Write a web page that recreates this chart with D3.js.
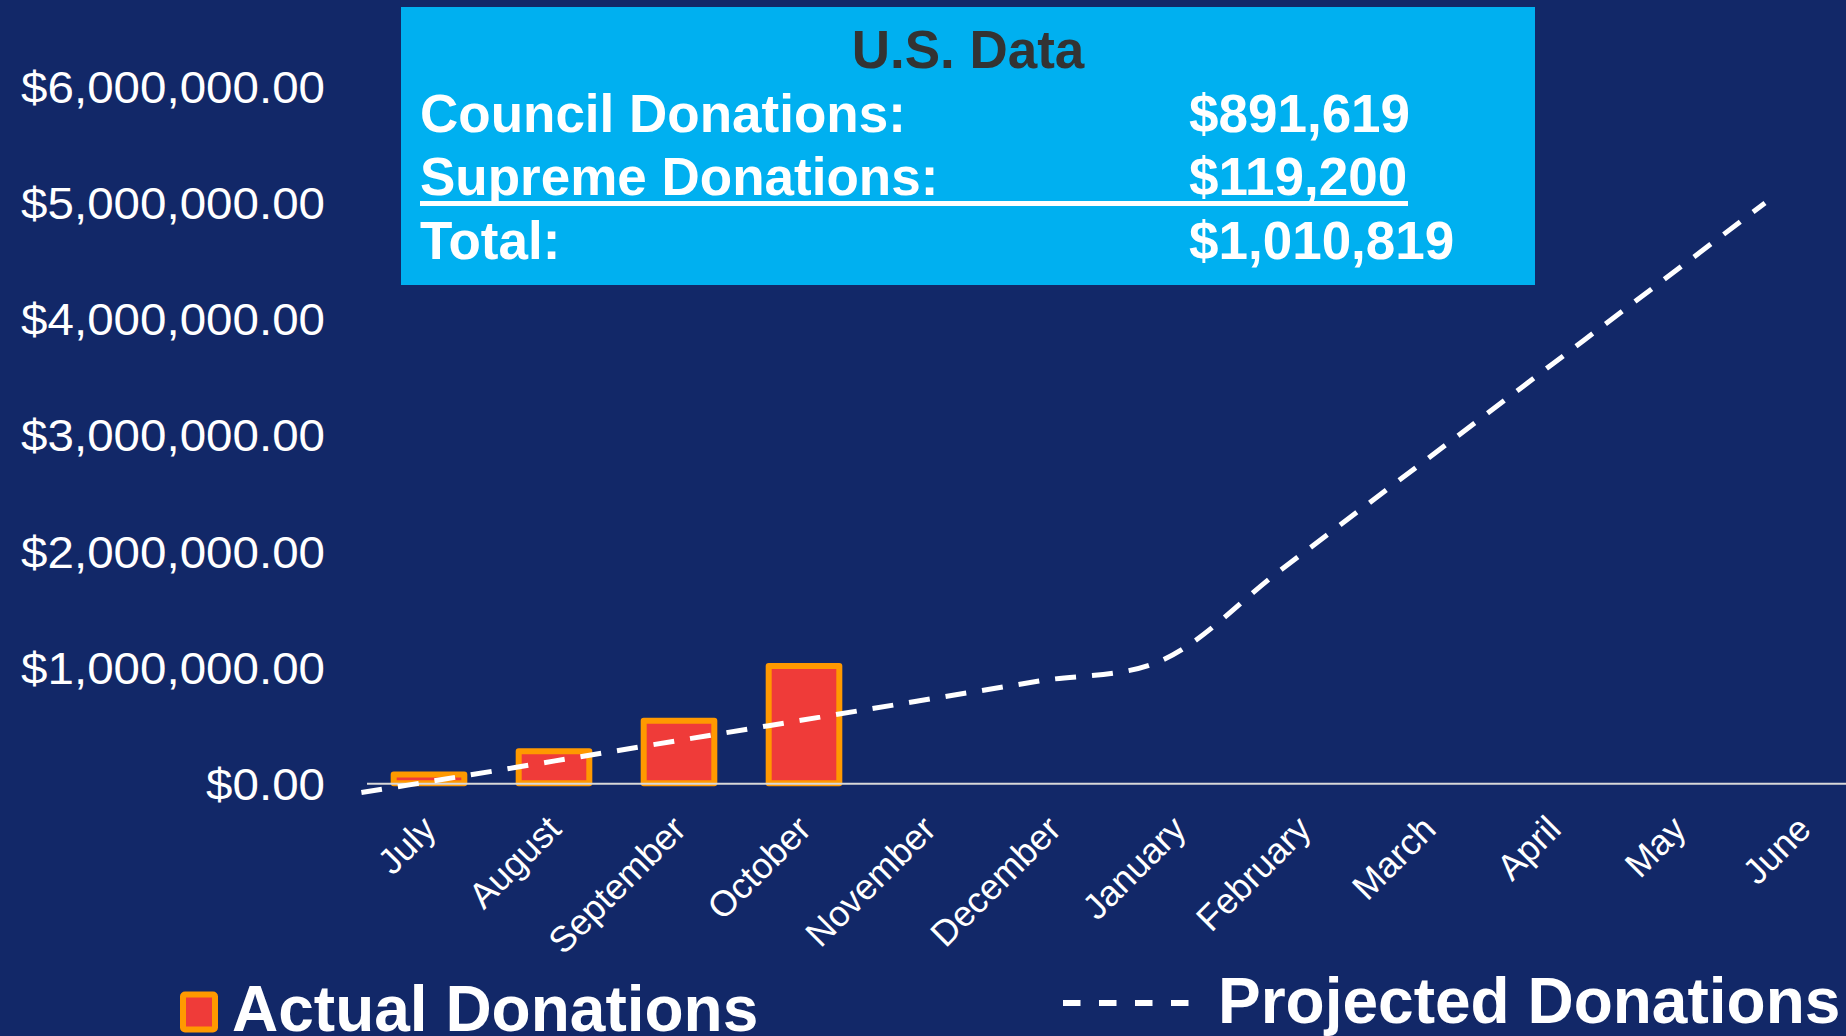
<!DOCTYPE html>
<html>
<head>
<meta charset="utf-8">
<script src="https://cdn.jsdelivr.net/npm/d3@7"></script>
<style>
  html, body { margin: 0; padding: 0; background: #122868; overflow: hidden; }
  svg { display: block; font-family: "Liberation Sans", Arial, sans-serif; }
</style>
</head>
<body>
<div id="chart"></div>
<script>
// months on the x axis
var months = ["July", "August", "September", "October", "November", "December",
  "January", "February", "March", "April", "May", "June"];

// actual donations (cumulative), only July..October so far
var actualMonths = ["July", "August", "September", "October"];
var actualValues = [76000, 277000, 540000, 1010819];

// projected donations, x given as month index (first point is the lead-in left of July)
var projIndex = [-0.6, 0, 1, 2, 3, 4, 5, 6, 7, 8, 9, 10, 11];
var projValues = [-80000, 21000, 193000, 365000, 537000, 709000, 881000, 1053000,
  1840000, 2630000, 3420000, 4210000, 5000000];

// y ticks
var yTicks = [0, 1000000, 2000000, 3000000, 4000000, 5000000, 6000000];

// summary box
var boxTitle = "U.S. Data";
var boxLabels = ["Council Donations:", "Supreme Donations:", "Total:"];
var boxValues = ["$891,619", "$119,200", "$1,010,819"];

var legendLabels = ["Actual Donations", "Projected Donations"];

var W = 1846, H = 1036;
var bg = "#122868", barFill = "#ef3b39", barStroke = "#ff9900";

var svg = d3.select("#chart").append("svg")
  .attr("width", W)
  .attr("height", H);

svg.append("rect").attr("width", W).attr("height", H).attr("fill", bg);

// scales
var x = d3.scaleBand()
  .domain(months)
  .range([366.5, 1866.5])
  .paddingInner(0.435)
  .paddingOuter(0.2175);

var xLine = d3.scaleLinear()
  .domain([0, 11])
  .range([434, 1765]);

var y = d3.scaleLinear()
  .domain([0, 6000000])
  .range([783.3, 87]);

// y axis
var yAxis = svg.append("g")
  .attr("transform", "translate(325,0)")
  .call(d3.axisLeft(y).tickValues(yTicks).tickSize(0).tickPadding(0).tickFormat(d3.format("$,.2f")));
yAxis.select(".domain").remove();
yAxis.selectAll("text")
  .attr("fill", "#ffffff")
  .attr("dy", "0.36em")
  .style("font-size", "44px")
  .style("font-family", "'Liberation Sans', Arial, sans-serif")
  .each(function() {
    var w = this.getComputedTextLength();
    d3.select(this).attr("textLength", w * 1.08).attr("lengthAdjust", "spacingAndGlyphs");
  });

// bars
svg.selectAll(".bar")
  .data(actualMonths)
  .enter().append("rect")
  .attr("class", "bar")
  .attr("x", function(d) { return x(d); })
  .attr("y", function(d, i) { return y(actualValues[i]); })
  .attr("width", x.bandwidth())
  .attr("height", function(d, i) { return y(0) - y(actualValues[i]); })
  .attr("fill", barFill)
  .attr("stroke", barStroke)
  .attr("stroke-width", 6)
  .attr("stroke-linejoin", "round");

// x axis (baseline + rotated labels)
var xAxis = svg.append("g")
  .attr("transform", "translate(0," + y(0) + ")")
  .call(d3.axisBottom(x).tickSize(0).tickSizeOuter(0));
xAxis.select(".domain")
  .attr("stroke", "#d9d9d9")
  .attr("stroke-width", 2);
xAxis.selectAll("text")
  .attr("fill", "#ffffff")
  .attr("y", 0)
  .attr("dy", 0)
  .attr("text-anchor", "end")
  .attr("transform", "translate(9,48) rotate(-45)")
  .style("font-size", "36px")
  .style("font-family", "'Liberation Sans', Arial, sans-serif");

// projected line
var line = d3.line()
  .x(function(d) { return xLine(d[0]); })
  .y(function(d) { return y(d[1]); })
  .curve(d3.curveCatmullRom.alpha(0.5));

svg.append("path")
  .datum(projIndex.map(function(d, i) { return [d, projValues[i]]; }))
  .attr("d", line)
  .attr("fill", "none")
  .attr("stroke", "#ffffff")
  .attr("stroke-width", 5)
  .attr("stroke-dasharray", "21,16");

// summary box
var box = svg.append("g");
box.append("rect")
  .attr("x", 401).attr("y", 7)
  .attr("width", 1134).attr("height", 278)
  .attr("fill", "#00b0f0");
box.append("text")
  .attr("x", 968).attr("y", 68)
  .attr("text-anchor", "middle")
  .attr("fill", "#333333")
  .style("font-size", "53px").style("font-weight", "bold")
  .text(boxTitle);
var rowY = [131.7, 195, 259.3];
boxLabels.forEach(function(lab, i) {
  box.append("text")
    .attr("x", 420).attr("y", rowY[i])
    .attr("fill", "#ffffff")
    .style("font-size", "53px").style("font-weight", "bold")
    .text(lab);
  box.append("text")
    .attr("x", 1189).attr("y", rowY[i])
    .attr("fill", "#ffffff")
    .style("font-size", "53px").style("font-weight", "bold")
    .text(boxValues[i]);
});
box.append("line")
  .attr("x1", 420).attr("x2", 1408)
  .attr("y1", 203.5).attr("y2", 203.5)
  .attr("stroke", "#ffffff")
  .attr("stroke-width", 5);

// legend
var leg = svg.append("g");
leg.append("rect")
  .attr("x", 183).attr("y", 994.5)
  .attr("width", 32).attr("height", 35)
  .attr("rx", 2)
  .attr("fill", barFill)
  .attr("stroke", barStroke)
  .attr("stroke-width", 6)
  .attr("stroke-linejoin", "round");
leg.append("text")
  .attr("x", 232).attr("y", 1031)
  .attr("fill", "#ffffff")
  .style("font-size", "64px").style("font-weight", "bold")
  .text(legendLabels[0]);
leg.append("line")
  .attr("x1", 1063).attr("x2", 1190)
  .attr("y1", 1003).attr("y2", 1003)
  .attr("stroke", "#ffffff")
  .attr("stroke-width", 6)
  .attr("stroke-dasharray", "17.5,18.5");
leg.append("text")
  .attr("x", 1218).attr("y", 1023)
  .attr("fill", "#ffffff")
  .style("font-size", "64px").style("font-weight", "bold")
  .text(legendLabels[1]);
</script>
</body>
</html>
